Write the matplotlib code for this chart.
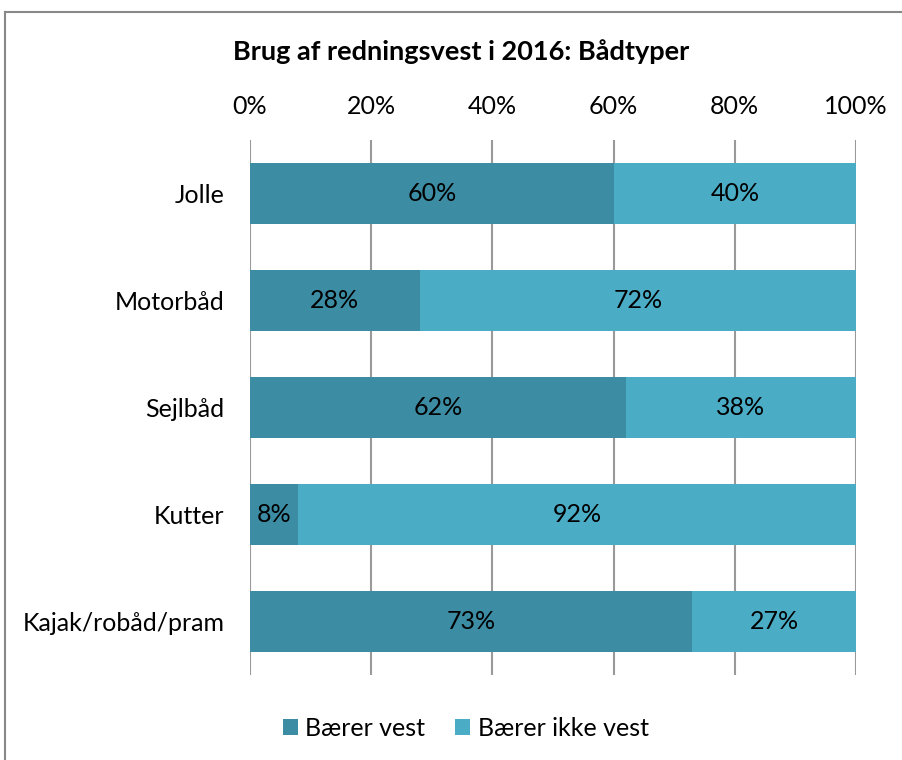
import matplotlib.pyplot as plt
from matplotlib.lines import Line2D
import numpy as np

plt.rcParams['font.family'] = ['Lato', 'DejaVu Sans']

boats = ['Jolle', 'Motorbåd', 'Sejlbåd', 'Kutter', 'Kajak/robåd/pram']
med_vest = [60, 28, 62, 8, 73]
uden_vest = [40, 72, 38, 92, 27]
x_ticks = [0, 20, 40, 60, 80, 100]

dark = '#3C8CA4'
light = '#4BACC6'
fs = 18

fig = plt.figure(figsize=(9.03, 7.6), dpi=100)
ax = fig.add_axes([250/903, 1-675/760, 606/903, 535/760])

y = np.arange(len(boats))
b1 = ax.barh(y, med_vest, height=0.57, color=dark, label='Bærer vest', zorder=3)
b2 = ax.barh(y, uden_vest, left=med_vest, height=0.57, color=light, label='Bærer ikke vest', zorder=3)

for bars in (b1, b2):
    ax.bar_label(bars, labels=[f'{int(b.get_width())}%' for b in bars],
                 label_type='center', fontsize=fs, color='black')

ax.set_xlim(0, 100)
ax.set_ylim(len(boats) - 0.5, -0.5)
ax.set_yticks(y)
ax.set_yticklabels(boats, fontsize=fs)
ax.set_xticks(x_ticks)
ax.set_xticklabels([f'{t}%' for t in x_ticks], fontsize=fs)
ax.xaxis.tick_top()
ax.tick_params(axis='x', length=0, pad=16)
ax.tick_params(axis='y', length=0, pad=18.5)
ax.grid(axis='x', color='#999999', linewidth=1.5, zorder=1)
for s in ax.spines.values():
    s.set_visible(False)

fig.text(461/903, 1-52/760, 'Brug af redningsvest i 2016: Bådtyper',
         ha='center', va='center', fontsize=19.5, fontweight='bold')

fig.legend(handles=[b1, b2], loc='center', bbox_to_anchor=(466/903, 1-728/760),
           ncol=2, frameon=False, fontsize=fs, handlelength=0.6, handleheight=0.6,
           handletextpad=0.3, columnspacing=1.2)

# chart frame
fig.add_artist(Line2D([5/903, 1], [1-12/760, 1-12/760], color='#888888', lw=1.5))
fig.add_artist(Line2D([5/903, 5/903], [0, 1-12/760], color='#888888', lw=1.5))

fig.savefig('out.png', dpi=100)
